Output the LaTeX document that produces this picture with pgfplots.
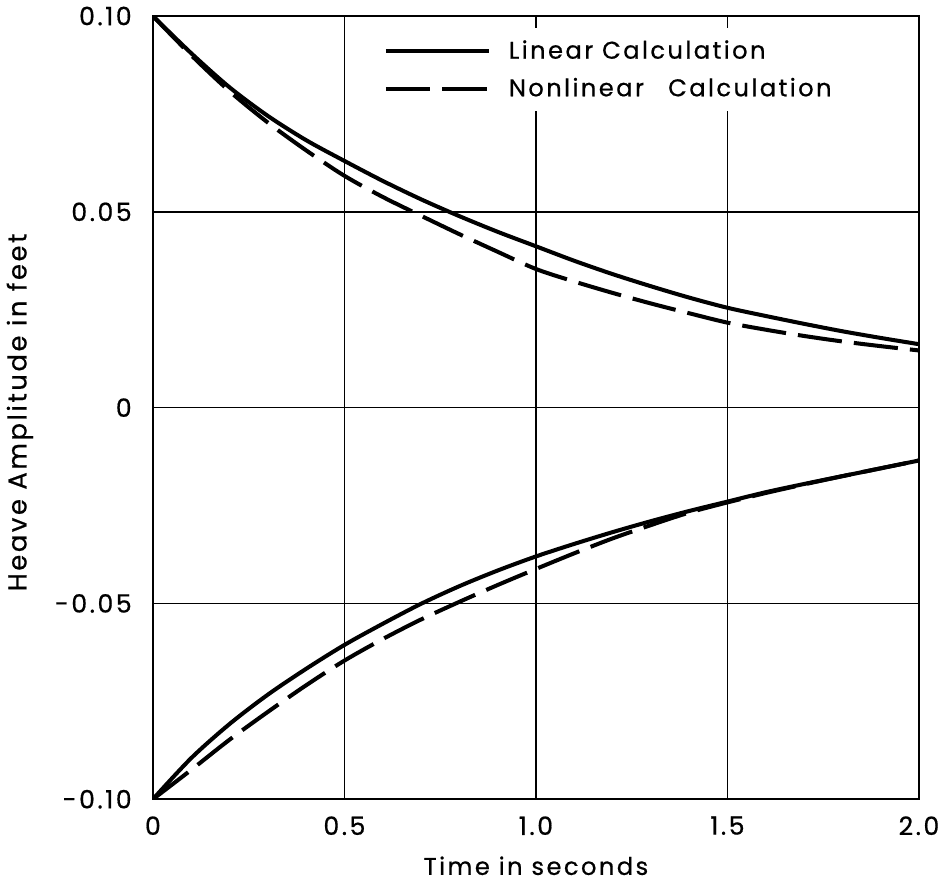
\documentclass[border=0pt]{standalone}
\usepackage{fontspec}
\setmainfont{Poppins}[LetterSpace=10, FakeBold=0.6]
\usepackage{pgfplots}
\usepackage{pgfplotstable}
\pgfplotsset{compat=1.18}

% upper and lower envelopes
\pgfplotstableread{
t     lin      nonlin
0.0   0.1000   0.1000
0.1   0.0905   0.0900
0.2   0.0818   0.0808
0.3   0.0745   0.0728
0.4   0.0683   0.0657
0.5   0.0630   0.0592
0.6   0.0579   0.0538
0.7   0.0532   0.0490
0.8   0.0489   0.0443
0.9   0.0449   0.0398
1.0   0.0412   0.0354
1.1   0.0375   0.0322
1.2   0.0341   0.0293
1.3   0.0310   0.0266
1.4   0.0281   0.0241
1.5   0.0255   0.0217
1.6   0.0234   0.0199
1.7   0.0214   0.0183
1.8   0.0195   0.0169
1.9   0.0178   0.0157
2.0   0.0162   0.0146
}\upperdata
\pgfplotstableread{
t     lin       nonlin
0.0   -0.1000   -0.1000
0.1   -0.0895   -0.0925
0.2   -0.0808   -0.0848
0.3   -0.0733   -0.0777
0.4   -0.0667   -0.0709
0.5   -0.0606   -0.0646
0.6   -0.0552   -0.0591
0.7   -0.0501   -0.0541
0.8   -0.0456   -0.0496
0.9   -0.0416   -0.0453
1.0   -0.0380   -0.0412
1.1   -0.0348   -0.0372
1.2   -0.0318   -0.0334
1.3   -0.0290   -0.0300
1.4   -0.0264   -0.0268
1.5   -0.0240   -0.0242
1.6   -0.0216   -0.0218
1.7   -0.0195   -0.0196
1.8   -0.0175   -0.0175
1.9   -0.0155   -0.0155
2.0   -0.0135   -0.0135
}\lowerdata

\begin{document}
\begin{tikzpicture}
\begin{axis}[
  scale only axis,
  width=380pt, height=388.5pt,
  xmin=0, xmax=2, ymin=-0.1, ymax=0.1,
  xtick={0,0.5,1,1.5,2},
  xticklabels={0,0.5,1.0,1.5,2.0},
  ytick={-0.1,-0.05,0.05,0.1},
  yticklabels={-0.10,-0.05,0.05,0.10},
  extra y ticks={0},
  extra y tick labels={0},
  extra y tick style={grid style={black, line width=1pt}},
  major tick length=0pt,
  grid=major,
  major grid style={black, line width=0.7pt},
  axis line style={line width=1pt},
  tick label style={font=\fontsize{12.5}{14}\selectfont},
  /pgf/number format/assume math mode=true,
  yticklabel style={xshift=-7pt},
  xticklabel style={yshift=-5pt},
  xlabel={Time in seconds},
  ylabel={Heave Amplitude in feet},
  xlabel style={font=\fontsize{12}{14}\selectfont,
    at={(axis description cs:0.5,-0.085)}, anchor=center},
  ylabel style={font=\fontsize{12.8}{14}\selectfont,
    at={(axis description cs:-0.1736,0.494)}, anchor=center},
  legend style={at={(axis description cs:0.28,0.985)}, anchor=north west,
    draw=none, fill=white, inner xsep=8pt, inner ysep=4pt,
    font=\fontsize{12}{14}\selectfont, row sep=4pt},
  legend cell align=left,
  legend image code/.code={\draw[#1] (0pt,0pt) -- (51pt,0pt); \path (58pt,0pt);},
]
\addplot[black, no marks, smooth, line width=2pt] table[x=t, y=lin] {\upperdata};
\addlegendentry{Linear Calculation}
\addplot[black, no marks, smooth, line width=2pt, dash pattern=on 22pt off 6pt] table[x=t, y=nonlin] {\upperdata};
\addlegendentry{Nonlinear\hspace{12pt}Calculation}
\addplot[forget plot, black, no marks, smooth, line width=2pt] table[x=t, y=lin] {\lowerdata};
\addplot[forget plot, black, no marks, smooth, line width=2pt, dash pattern=on 22pt off 6pt] table[x=t, y=nonlin] {\lowerdata};
\end{axis}
\end{tikzpicture}
\end{document}
